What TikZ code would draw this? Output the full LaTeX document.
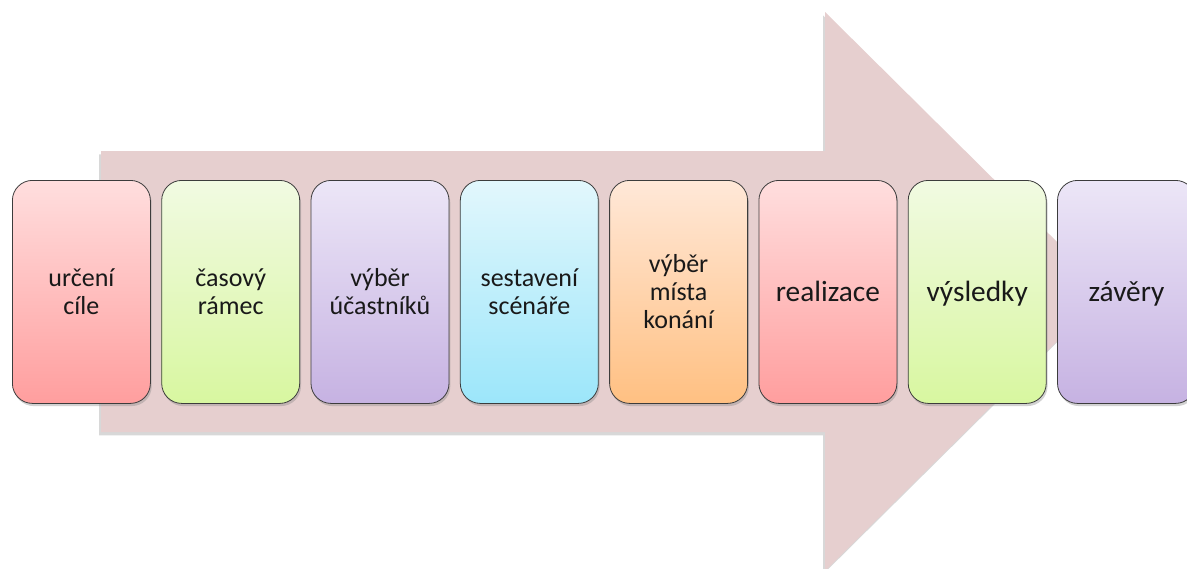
\documentclass[tikz,border=0pt]{standalone}
\usepackage{fontspec}
\setmainfont{Carlito}
\usetikzlibrary{shadows}
\definecolor{arrowfill}{RGB}{230,207,207}
\definecolor{boxline}{RGB}{60,60,60}
\definecolor{redT}{RGB}{255,222,222}
\definecolor{redB}{RGB}{255,158,158}
\definecolor{greenT}{RGB}{241,250,226}
\definecolor{greenB}{RGB}{216,247,160}
\definecolor{purpT}{RGB}{236,230,247}
\definecolor{purpB}{RGB}{198,178,226}
\definecolor{cyanT}{RGB}{226,247,252}
\definecolor{cyanB}{RGB}{156,230,250}
\definecolor{orT}{RGB}{255,232,216}
\definecolor{orB}{RGB}{255,192,130}
\newcommand{\tstr}{\rule{0pt}{\dimexpr0.7\baselineskip+4.5pt\relax}}
\begin{document}
\begin{tikzpicture}[x=0.75pt,y=-0.75pt,
  stepbox/.style={draw=boxline, line width=0.6pt, rounded corners=15pt,
    minimum width=103.5pt, minimum height=167.25pt, anchor=north west,
    inner sep=0pt, align=center, text=black!90,
    font=\fontsize{19.5}{21}\selectfont,
    drop shadow={shadow xshift=1pt,shadow yshift=-2pt,opacity=0.35}},
  bigtext/.style={font=\fontsize{22}{24}\selectfont},
  red/.style={top color=redT, bottom color=redB},
  green/.style={top color=greenT, bottom color=greenB},
  purp/.style={top color=purpT, bottom color=purpB},
  cyan/.style={top color=cyanT, bottom color=cyanB},
  orng/.style={top color=orT, bottom color=orB},
  bigarrow/.style={fill=arrowfill, drop shadow={shadow xshift=-1.5pt,shadow yshift=-2.5pt,opacity=0.3}}
]
\useasboundingbox (0,0) rectangle (1187,568);
\fill[white] (0,0) rectangle (1187,568);
\path[bigarrow] (101,151) -- (825,151) -- (825,12) -- (1107,291.5) -- (825,571) -- (825,432) -- (101,432) -- cycle;
\node[stepbox, red]   (b1) at (12,180)     {\tstr určení\\cíle\strut};
\node[stepbox, green] (b2) at (161.3,180)  {\tstr časový\\rámec\strut};
\node[stepbox, purp]  (b3) at (310.6,180)  {\tstr výběr\\účastníků\strut};
\node[stepbox, cyan]  (b4) at (459.9,180)  {\tstr sestavení\\scénáře\strut};
\node[stepbox, orng]  (b5) at (609.2,180)  {\tstr výběr\\místa\\konání\strut};
\node[stepbox, red, bigtext]   (b6) at (758.5,180)  {\tstr realizace\strut};
\node[stepbox, green, bigtext] (b7) at (907.8,180)  {\tstr výsledky\strut};
\node[stepbox, purp, bigtext]  (b8) at (1057.1,180) {\tstr závěry\strut};
\end{tikzpicture}
\end{document}
